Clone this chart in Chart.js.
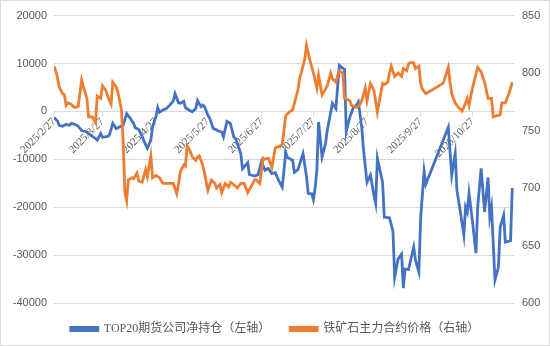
<!DOCTYPE html>
<html>
<head>
<meta charset="utf-8">
<script src="https://cdn.jsdelivr.net/npm/chart.js@4.4.1/dist/chart.umd.min.js"></script>
<style>
  html, body { margin: 0; padding: 0; background: #fff; }
  #wrap { width: 550px; height: 346px; box-sizing: border-box; border: 1px solid #d9d9d9; }
  canvas { display: block; }
</style>
</head>
<body>
<div id="wrap"><canvas id="chart" width="548" height="344"></canvas></div>
<script>
// 2025 trading data, dates as MM-DD
const YEAR = 2025;
const START = "02-27";
const tickDates = ["02-27", "03-27", "04-27", "05-27", "06-27", "07-27", "08-27", "09-27", "10-27"];

const netLabel = "TOP20期货公司净持仓（左轴）";
const netDates = [
  "02-27","03-01","03-02","03-04","03-06","03-08","03-09","03-11","03-13","03-15",
  "03-18","03-20","03-22","03-24","03-26","03-27","03-30","03-31","04-02","04-04",
  "04-06","04-08","04-10","04-12","04-14","04-15","04-17","04-19","04-20","04-22",
  "04-24","04-25","04-27","04-28","04-29","05-01","05-03","05-05","05-07","05-08",
  "05-10","05-11","05-13","05-14","05-16","05-18","05-20","05-21","05-23","05-24",
  "05-25","05-27","05-28","05-30","06-01","06-02","06-04","06-05","06-07","06-09",
  "06-11","06-12","06-15","06-16","06-19","06-20","06-23","06-25","06-27","06-29",
  "07-01","07-03","07-05","07-07","07-09","07-11","07-12","07-15","07-16","07-18",
  "07-21","07-23","07-24","07-26","07-27","07-28","07-29","07-30","08-01","08-03",
  "08-04","08-07","08-09","08-10","08-11","08-13","08-14","08-15","08-17","08-19",
  "08-21","08-22","08-24","08-25","08-27","08-29","08-31","09-01","09-02","09-05",
  "09-06","09-09","09-11","09-12","09-14","09-16","09-17","09-18","09-20","09-23",
  "09-24","09-26","09-27","09-29","09-30","10-13","10-15","10-17","10-18","10-20",
  "10-22","10-23","10-24","10-25","10-27","10-29","10-30","11-01","11-03","11-05",
  "11-06","11-07","11-09","11-11","11-12","11-14","11-15","11-18","11-19"
];
const netPos = [
  -1300,-2000,-2900,-3100,-2700,-2900,-2500,-2700,-3100,-4000,
  -4300,-4900,-5400,-6000,-4600,-5400,-5200,-5000,-2500,-3600,
  -3200,-2900,-500,-1400,-2500,-3400,-3800,-5200,-6200,-7700,
  -6000,-3200,-1000,800,-200,300,600,1300,2200,3700,
  1800,1700,2100,800,300,-100,600,2300,1000,1300,
  1000,-800,-1400,-3500,-3900,-4100,-4300,-5300,-2100,-2500,
  -5400,-5600,-8800,-12000,-10700,-13200,-13500,-13200,-10500,-12300,
  -11900,-13000,-12800,-14500,-15800,-8600,-9600,-10200,-12700,-12200,
  -8800,-13500,-17100,-17200,-18400,-16000,-12300,-2200,-9500,-6700,
  -4000,1700,600,5000,9600,9000,8800,-4200,-1300,700,
  1400,2000,-3500,-8100,-14800,-13300,-17500,-19200,-9800,-14800,
  -22100,-22200,-25000,-34600,-30800,-29800,-36900,-32900,-33000,-28300,
  -31000,-33500,-22500,-12500,-15200,-3300,-13300,-8800,-16500,-21000,
  -25800,-20000,-21000,-17100,-23000,-29600,-20000,-11900,-21000,-13800,
  -22100,-20000,-35200,-32500,-24200,-21700,-27300,-27000,-16000
];

const oreLabel = "铁矿石主力合约价格（右轴）";
const oreDates = [
  "02-27","02-28","03-01","03-02","03-04","03-05","03-06","03-07","03-09","03-10",
  "03-11","03-13","03-15","03-16","03-17","03-18","03-19","03-21","03-23","03-24",
  "03-26","03-27","03-29","03-30","04-01","04-02","04-04","04-05","04-06","04-07",
  "04-08","04-09","04-10","04-11","04-13","04-14","04-16","04-17","04-19","04-21",
  "04-22","04-24","04-25","04-27","04-29","05-01","05-04","05-07","05-09","05-10",
  "05-11","05-13","05-14","05-15","05-17","05-18","05-20","05-21","05-22","05-24",
  "05-25","05-27","05-29","05-31","06-01","06-03","06-04","06-06","06-08","06-09",
  "06-11","06-13","06-15","06-17","06-19","06-22","06-23","06-24","06-26","06-28",
  "06-29","07-01","07-03","07-05","07-07","07-09","07-11","07-13","07-15","07-18",
  "07-19","07-22","07-23","07-25","07-27","07-29","07-30","08-01","08-03","08-04",
  "08-06","08-07","08-09","08-10","08-11","08-13","08-14","08-17","08-18","08-20",
  "08-21","08-23","08-24","08-26","08-27","08-29","08-31","09-02","09-05","09-06",
  "09-08","09-09","09-10","09-12","09-14","09-16","09-17","09-19","09-20","09-21",
  "09-23","09-24","09-26","09-27","09-28","09-30","10-10","10-13","10-14","10-15",
  "10-17","10-19","10-21","10-23","10-24","10-25","10-27","10-30","11-01","11-03",
  "11-05","11-07","11-08","11-10","11-11","11-12","11-13","11-15","11-17","11-19"
];
const orePrice = [
  806,802,796,788,782,781,772,774,773,771,
  770,771,794,788,783,778,762,762,757,780,
  778,789,785,780,773,792,788,783,776,768,
  740,696,689,707,709,708,713,706,705,716,
  710,728,709,711,709,704,704,704,695,703,
  714,720,719,737,731,727,724,727,728,720,
  713,698,707,704,700,703,696,704,701,705,
  703,700,704,704,696,704,707,707,704,726,
  725,726,718,735,736,738,763,766,768,785,
  795,812,824,811,800,787,798,781,786,789,
  800,795,792,798,802,800,778,776,772,771,
  770,773,776,787,776,791,785,766,791,790,
  792,800,806,797,800,797,804,802,808,809,
  809,804,806,791,786,782,791,805,792,782,
  774,770,767,774,778,772,787,805,801,792,
  778,778,762,763,763,764,774,774,782,792
];

const leftTicks = { min: -40000, max: 20000, step: 10000 };
const rightTicks = { min: 600, max: 850, step: 50 };
const X_MAX_DATE = "11-20";

const TEXT = "#595959";
const GRID = "#d9d9d9";

function dayOf(md) {
  const [m, d] = md.split("-").map(Number);
  const [m0, d0] = START.split("-").map(Number);
  return (Date.UTC(YEAR, m - 1, d) - Date.UTC(YEAR, m0 - 1, d0)) / 86400000;
}

function toPoints(dates, values) {
  return dates.map((md, i) => ({ x: dayOf(md), y: values[i] }));
}

const tickDays = tickDates.map(dayOf);

new Chart(document.getElementById("chart"), {
  type: "line",
  data: {
    datasets: [
      {
        label: netLabel,
        data: toPoints(netDates, netPos),
        yAxisID: "yL",
        borderColor: "#4472c4",
        backgroundColor: "#4472c4",
        borderWidth: 2.8,
        pointRadius: 0,
        tension: 0,
        order: 1,
      },
      {
        label: oreLabel,
        data: toPoints(oreDates, orePrice),
        yAxisID: "yR",
        borderColor: "#ed7d31",
        backgroundColor: "#ed7d31",
        borderWidth: 2.8,
        pointRadius: 0,
        tension: 0,
        order: 0,
      },
    ],
  },
  options: {
    responsive: false,
    animation: false,
    events: [],
    layout: { padding: { top: 14, left: 0, right: 0, bottom: 0 } },
    plugins: {
      tooltip: { enabled: false },
      legend: {
        position: "bottom",
        labels: {
          color: TEXT,
          boxWidth: 27,
          boxHeight: 3,
          padding: 20,
          font: { family: '"Liberation Serif", "Noto Sans CJK SC"', size: 12 },
          sort: (a, b) => a.datasetIndex - b.datasetIndex,
        },
      },
    },
    scales: {
      x: {
        type: "linear",
        position: { yL: 0 },
        min: 0,
        max: dayOf(X_MAX_DATE),
        afterBuildTicks: (scale) => {
          scale.ticks = tickDays.map((v) => ({ value: v }));
        },
        grid: { display: true, drawOnChartArea: false, drawTicks: true, tickLength: 4, color: GRID },
        border: { display: true, color: GRID },
        ticks: {
          autoSkip: false,
          minRotation: 45,
          maxRotation: 45,
          padding: 0,
          color: TEXT,
          font: { family: '"Liberation Serif"', size: 11 },
          callback: (v) => {
            const i = tickDays.indexOf(v);
            if (i < 0) return "";
            const [m, d] = tickDates[i].split("-").map(Number);
            return `${YEAR}/${m}/${d}`;
          },
        },
      },
      yL: {
        position: "left",
        min: leftTicks.min,
        max: leftTicks.max,
        afterFit: (s) => { s.width = 53; },
        grid: { color: GRID, drawTicks: false },
        border: { display: false },
        ticks: {
          stepSize: leftTicks.step,
          padding: 7,
          color: TEXT,
          font: { family: '"Liberation Sans"', size: 11 },
          callback: (v) => String(v),
        },
      },
      yR: {
        position: "right",
        min: rightTicks.min,
        max: rightTicks.max,
        afterFit: (s) => { s.width = 35; },
        grid: { drawOnChartArea: false, drawTicks: false },
        border: { display: false },
        ticks: {
          stepSize: rightTicks.step,
          padding: 8,
          color: TEXT,
          font: { family: '"Liberation Sans"', size: 11 },
        },
      },
    },
  },
});
</script>
</body>
</html>
